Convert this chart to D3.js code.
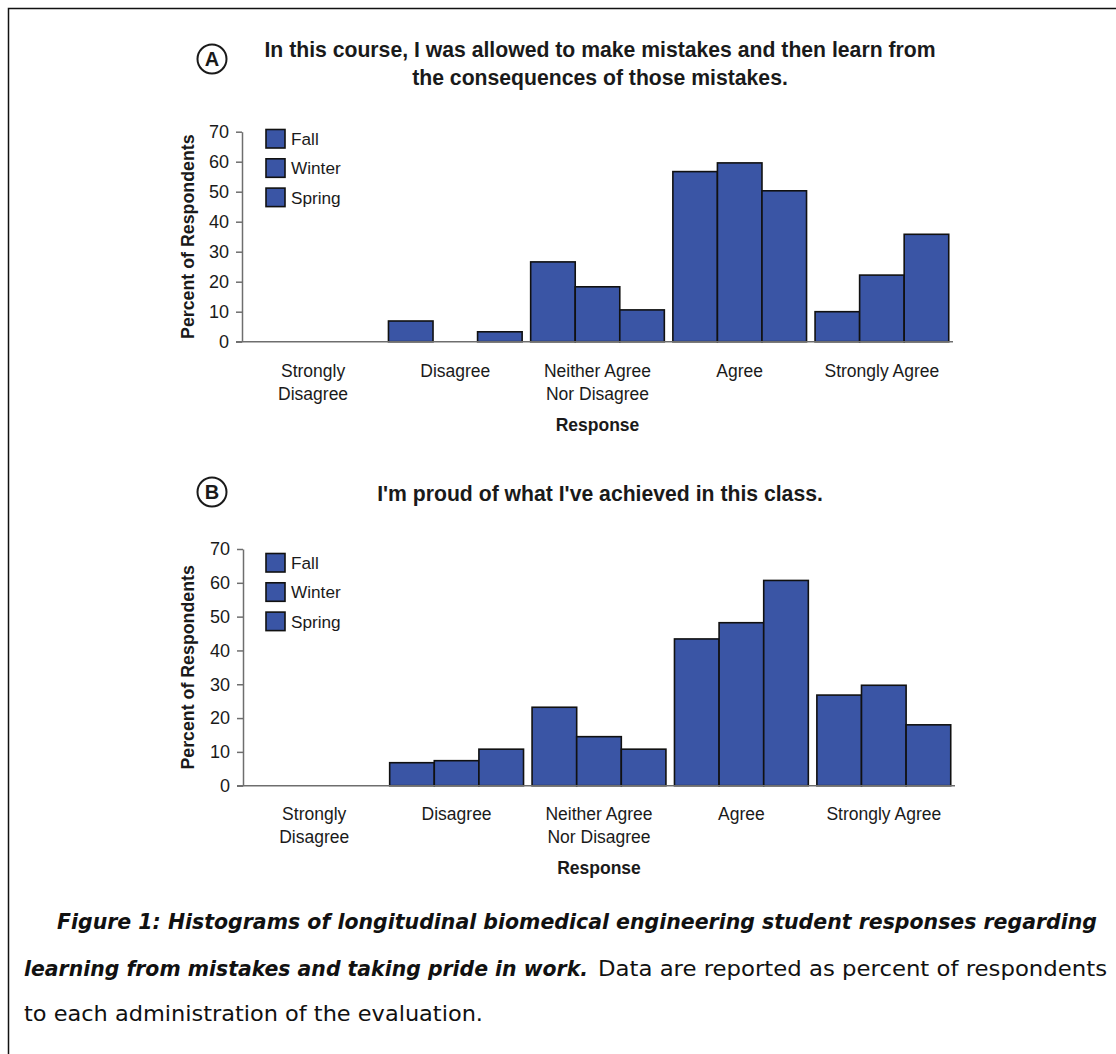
<!DOCTYPE html>
<html>
<head>
<meta charset="utf-8">
<script src="https://cdn.jsdelivr.net/npm/d3@7"></script>
<style>
  html, body { margin: 0; padding: 0; background: #fff; }
  svg { display: block; }
</style>
</head>
<body>
<svg id="fig" width="1116" height="1054"></svg>
<script>
// Response categories (x axis) and their wrapped label lines
const categories = ["Strongly Disagree", "Disagree", "Neither Agree Nor Disagree", "Agree", "Strongly Agree"];
const categoryLines = [["Strongly", "Disagree"], ["Disagree"], ["Neither Agree", "Nor Disagree"], ["Agree"], ["Strongly Agree"]];
const seasons = ["Fall", "Winter", "Spring"];
const yTicks = [0, 10, 20, 30, 40, 50, 60, 70];

// Panel A: learning from mistakes (percent of respondents)
const mistakesFall   = [0, 6.9, 26.6, 56.7, 10.0];
const mistakesWinter = [0, 0,   18.3, 59.6, 22.2];
const mistakesSpring = [0, 3.3, 10.6, 50.3, 35.8];

// Panel B: pride in work (percent of respondents)
const prideFall   = [0, 6.8, 23.2, 43.4, 26.8];
const prideWinter = [0, 7.4, 14.5, 48.2, 29.7];
const prideSpring = [0, 10.8, 10.8, 60.7, 18.0];

const titleA = ["In this course, I was allowed to make mistakes and then learn from",
                "the consequences of those mistakes."];
const titleB = ["I'm proud of what I've achieved in this class."];

const BAR = "#3a55a5";
const INK = "#1a1a1a";
const AXIS = "#6e6e6e";
const SANS = "'Liberation Sans', Arial, Helvetica, sans-serif";

const svg = d3.select("#fig");

// Frame lines along the top and left edge
svg.append("path")
  .attr("d", "M8.5,1054 V8.5 H1116")
  .attr("fill", "none").attr("stroke", "#111").attr("stroke-width", 1.5);

function panel(opts) {
  const { letter, title, titleY, letterY, series, yBottom, yTop, xLeft, xRight,
          labelY, responseY, legendTop } = opts;
  const g = svg.append("g");

  const x = d3.scaleBand().domain(categories).range([xLeft, xRight])
    .paddingInner(0.06).paddingOuter(0.03);
  const xs = d3.scaleBand().domain(seasons).range([0, x.bandwidth()]);
  const y = d3.scaleLinear().domain([0, 70]).range([yBottom, yTop]);

  // circled panel letter
  g.append("circle").attr("cx", 212).attr("cy", letterY).attr("r", 14.5)
    .attr("fill", "none").attr("stroke", INK).attr("stroke-width", 2);
  g.append("text").attr("x", 212).attr("y", letterY).attr("dy", "0.36em")
    .attr("text-anchor", "middle")
    .style("font", `bold 20px ${SANS}`).attr("fill", INK)
    .text(letter);

  // title
  title.forEach((t, i) => {
    g.append("text").attr("x", 600).attr("y", titleY + i * 28)
      .attr("text-anchor", "middle")
      .style("font", `bold 21.2px ${SANS}`).attr("fill", INK)
      .text(t);
  });

  // bars
  const rows = [];
  series.forEach((vals, si) => {
    vals.forEach((v, ci) => { if (v > 0) rows.push({ c: categories[ci], s: seasons[si], v }); });
  });
  g.append("g").selectAll("rect").data(rows).join("rect")
    .attr("x", d => x(d.c) + xs(d.s))
    .attr("width", xs.bandwidth())
    .attr("y", d => y(d.v))
    .attr("height", d => y(0) - y(d.v))
    .attr("fill", BAR).attr("stroke", "#111").attr("stroke-width", 1.6);

  // y axis
  const yAxis = d3.axisLeft(y).tickValues(yTicks).tickSize(6).tickSizeOuter(0).tickPadding(7);
  const ya = g.append("g").attr("transform", `translate(${xLeft},0)`).call(yAxis);
  ya.select(".domain").attr("stroke", AXIS).attr("stroke-width", 1.5);
  ya.selectAll(".tick line").attr("stroke", AXIS).attr("stroke-width", 1.5);
  ya.selectAll(".tick text")
    .style("font", `18px ${SANS}`).attr("fill", INK);

  // x axis baseline
  g.append("line").attr("x1", xLeft - 6).attr("x2", xRight)
    .attr("y1", y(0)).attr("y2", y(0))
    .attr("stroke", AXIS).attr("stroke-width", 1.5);

  // category labels
  categories.forEach((c, i) => {
    categoryLines[i].forEach((ln, j) => {
      g.append("text").attr("x", x(c) + x.bandwidth() / 2).attr("y", labelY + j * 23)
        .attr("text-anchor", "middle")
        .style("font", `17.5px ${SANS}`).attr("fill", INK)
        .text(ln);
    });
  });

  // axis titles
  g.append("text").attr("x", (xLeft + xRight) / 2).attr("y", responseY)
    .attr("text-anchor", "middle")
    .style("font", `bold 17.5px ${SANS}`).attr("fill", INK)
    .text("Response");
  g.append("text")
    .attr("transform", `translate(194,${(yBottom + yTop) / 2}) rotate(-90)`)
    .attr("text-anchor", "middle")
    .style("font", `bold 17.8px ${SANS}`).attr("fill", INK)
    .text("Percent of Respondents");

  // legend
  const leg = g.append("g");
  seasons.forEach((s, i) => {
    const ly = legendTop + i * 29.3;
    leg.append("rect").attr("x", 266).attr("y", ly).attr("width", 19).attr("height", 18.5)
      .attr("fill", BAR).attr("stroke", "#111").attr("stroke-width", 1.6);
    leg.append("text").attr("x", 291).attr("y", ly + 9.5).attr("dy", "0.35em")
      .style("font", `17.2px ${SANS}`).attr("fill", INK)
      .text(s);
  });
}

panel({
  letter: "A", title: titleA, titleY: 57, letterY: 59,
  series: [mistakesFall, mistakesWinter, mistakesSpring],
  yBottom: 341.7, yTop: 131.7, xLeft: 242, xRight: 953,
  labelY: 376.5, responseY: 430.5, legendTop: 129.5
});

panel({
  letter: "B", title: titleB, titleY: 501, letterY: 492,
  series: [prideFall, prideWinter, prideSpring],
  yBottom: 785.7, yTop: 549, xLeft: 243, xRight: 955,
  labelY: 819.5, responseY: 874, legendTop: 553.5
});

// Caption (bold italic lead-in, then regular text)
const cap = svg.append("g")
  .style("font-family", "'DejaVu Sans', 'Open Sans', sans-serif")
  .style("font-size", "20.5px").attr("fill", "#111");
function capLine(x, y, txt, len, bold) {
  const t = cap.append("text").attr("x", x).attr("y", y)
    .attr("textLength", len).attr("lengthAdjust", "spacingAndGlyphs").text(txt);
  if (bold) t.style("font-weight", "bold").style("font-style", "italic");
  return t;
}
capLine(57, 929, "Figure 1: Histograms of longitudinal biomedical engineering student responses regarding", 1040, true);
capLine(24, 976, "learning from mistakes and taking pride in work.", 564, true);
capLine(598, 976, "Data are reported as percent of respondents", 509, false);
capLine(24, 1021, "to each administration of the evaluation.", 459, false);
</script>
</body>
</html>
